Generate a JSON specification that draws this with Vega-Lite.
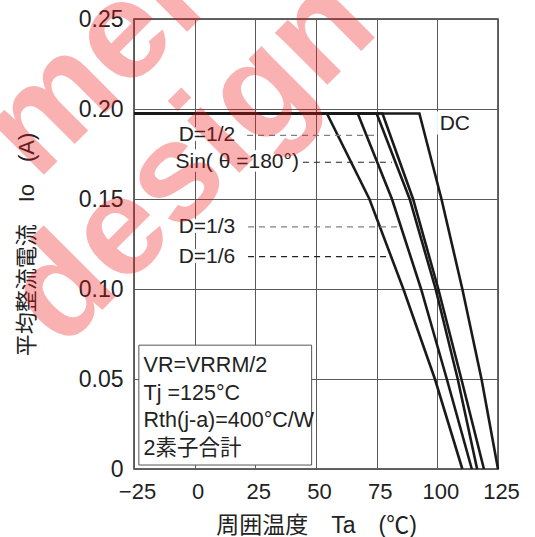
{
  "$schema": "https://vega.github.io/schema/vega-lite/v6.json",
  "autosize": "none",
  "width": 364,
  "height": 450,
  "padding": {"left": 134, "top": 19, "right": 37, "bottom": 68},
  "background": "white",
  "config": {
    "view": {"stroke": "#333333", "strokeWidth": 1.5},
    "font": "Liberation Sans, Noto Sans CJK JP"
  },
  "datasets": {
    "curves": [
      {"s": "D=1/6", "k": 0, "t": -25, "io": 0.1975},
      {"s": "D=1/6", "k": 1, "t": 54.5, "io": 0.1975},
      {"s": "D=1/6", "k": 3, "t": 72.0, "io": 0.15},
      {"s": "D=1/6", "k": 4, "t": 86.0, "io": 0.10},
      {"s": "D=1/6", "k": 5, "t": 99.0, "io": 0.05},
      {"s": "D=1/6", "k": 7, "t": 110.3, "io": 0},
      {"s": "D=1/3", "k": 0, "t": -25, "io": 0.1975},
      {"s": "D=1/3", "k": 1, "t": 67.2, "io": 0.1975},
      {"s": "D=1/3", "k": 3, "t": 81.3, "io": 0.15},
      {"s": "D=1/3", "k": 4, "t": 93.3, "io": 0.10},
      {"s": "D=1/3", "k": 5, "t": 103.9, "io": 0.05},
      {"s": "D=1/3", "k": 7, "t": 114.2, "io": 0},
      {"s": "Sin", "k": 0, "t": -25, "io": 0.1975},
      {"s": "Sin", "k": 1, "t": 75.0, "io": 0.1975},
      {"s": "Sin", "k": 3, "t": 88.6, "io": 0.15},
      {"s": "Sin", "k": 4, "t": 99.3, "io": 0.10},
      {"s": "Sin", "k": 5, "t": 108.4, "io": 0.05},
      {"s": "Sin", "k": 7, "t": 116.4, "io": 0},
      {"s": "D=1/2", "k": 0, "t": -25, "io": 0.1975},
      {"s": "D=1/2", "k": 1, "t": 77.4, "io": 0.1975},
      {"s": "D=1/2", "k": 3, "t": 90.0, "io": 0.15},
      {"s": "D=1/2", "k": 4, "t": 100.4, "io": 0.10},
      {"s": "D=1/2", "k": 5, "t": 109.9, "io": 0.05},
      {"s": "D=1/2", "k": 7, "t": 119.2, "io": 0},
      {"s": "DC", "k": 0, "t": -25, "io": 0.1975},
      {"s": "DC", "k": 1, "t": 92.6, "io": 0.1975},
      {"s": "DC", "k": 3, "t": 101.7, "io": 0.15},
      {"s": "DC", "k": 4, "t": 110.3, "io": 0.10},
      {"s": "DC", "k": 5, "t": 118.2, "io": 0.05},
      {"s": "DC", "k": 7, "t": 125, "io": 0}
    ],
    "labels": [
      {"label": "D=1/2", "lx": -6.6, "ly": 0.1854, "x1": 21.6, "x2": 75.7, "tone": "grey"},
      {"label": "Sin( θ =180°)", "lx": -7.9, "ly": 0.1704, "x1": 44.6, "x2": 81.3, "tone": "black"},
      {"label": "D=1/3", "lx": -6.6, "ly": 0.1345, "x1": 22.0, "x2": 85.5, "tone": "grey"},
      {"label": "D=1/6", "lx": -6.6, "ly": 0.118, "x1": 22.0, "x2": 81.2, "tone": "black"}
    ],
    "dc": [{"label": "DC", "lx": 107.2, "ly": 0.1919}],
    "box": [{"bx1": -23.0, "bx2": 48.2, "by1": 0.0022, "by2": 0.0688}],
    "boxtext": [
      {"line": "VR=VRRM/2", "tx": -21.05, "ty": 0.054},
      {"line": "Tj =125°C", "tx": -21.05, "ty": 0.0384},
      {"line": "Rth(j-a)=400°C/W", "tx": -21.05, "ty": 0.0231},
      {"line": "2素子合計", "tx": -21.05, "ty": 0.0078}
    ],
    "wm": [
      {"w": "design", "wx": 11.0, "wy": 0.1545},
      {"w": "mel", "wx": -29.8, "wy": 0.2069}
    ]
  },
  "layer": [
    {
      "data": {"name": "box"},
      "mark": {"type": "rect", "fill": "white", "stroke": "#555555", "strokeWidth": 1},
      "encoding": {
        "x": {
          "field": "bx1", "type": "quantitative",
          "scale": {"domain": [-25, 125], "nice": false, "zero": false},
          "axis": {
            "values": [-25, 0, 25, 50, 75, 100, 125],
            "grid": true, "gridColor": "#5a5a5a", "gridWidth": 1,
            "ticks": false, "tickSize": 0, "domain": false,
            "labelFlush": false, "labelFontSize": 22, "labelColor": "#222222",
            "labelBaseline": "alphabetic", "labelPadding": 29, "labelOffset": 3,
            "title": "周囲温度　Ta　(℃)", "titleFontSize": 23, "titleFontWeight": "normal",
            "titleColor": "#222222", "titleBaseline": "alphabetic", "titleY": 63
          }
        },
        "x2": {"field": "bx2"},
        "y": {
          "field": "by1", "type": "quantitative",
          "scale": {"domain": [0, 0.25], "nice": false, "zero": false},
          "axis": {
            "values": [0, 0.05, 0.1, 0.15, 0.2, 0.25],
            "labelExpr": "datum.value == 0 ? '0' : format(datum.value, '.2f')",
            "grid": true, "gridColor": "#5a5a5a", "gridWidth": 1,
            "ticks": false, "tickSize": 0, "domain": false,
            "labelFlush": false, "labelFontSize": 23, "labelColor": "#222222",
            "labelPadding": 11,
            "title": "平均整流電流　Io　(A)", "titleFontSize": 22, "titleFontWeight": "normal",
            "titleColor": "#222222", "titleBaseline": "alphabetic", "titleX": -101, "titleY": 225
          }
        },
        "y2": {"field": "by2"}
      }
    },
    {
      "data": {"name": "curves"},
      "mark": {"type": "line", "color": "#1a1a1a", "strokeWidth": 2.6},
      "encoding": {
        "x": {"field": "t", "type": "quantitative"},
        "y": {"field": "io", "type": "quantitative"},
        "detail": {"field": "s"},
        "order": {"field": "k", "type": "quantitative"}
      }
    },
    {
      "data": {"name": "labels"},
      "transform": [{"filter": "datum.tone == 'grey'"}],
      "mark": {"type": "rule", "color": "#808080", "strokeWidth": 1.2, "strokeDash": [6, 5]},
      "encoding": {
        "x": {"field": "x1", "type": "quantitative"},
        "x2": {"field": "x2"},
        "y": {"field": "ly", "type": "quantitative"}
      }
    },
    {
      "data": {"name": "labels"},
      "transform": [{"filter": "datum.tone == 'black'"}],
      "mark": {"type": "rule", "color": "#222222", "strokeWidth": 1.1, "strokeDash": [6, 5]},
      "encoding": {
        "x": {"field": "x1", "type": "quantitative"},
        "x2": {"field": "x2"},
        "y": {"field": "ly", "type": "quantitative"}
      }
    },
    {
      "data": {"name": "labels"},
      "mark": {"type": "text", "align": "left", "baseline": "middle", "fontSize": 21, "stroke": "white", "strokeWidth": 7, "fill": "white"},
      "encoding": {
        "x": {"field": "lx", "type": "quantitative"},
        "y": {"field": "ly", "type": "quantitative"},
        "text": {"field": "label"}
      }
    },
    {
      "data": {"name": "labels"},
      "mark": {"type": "text", "align": "left", "baseline": "middle", "fontSize": 21, "color": "#222222"},
      "encoding": {
        "x": {"field": "lx", "type": "quantitative"},
        "y": {"field": "ly", "type": "quantitative"},
        "text": {"field": "label"}
      }
    },
    {
      "data": {"name": "dc"},
      "mark": {"type": "text", "align": "center", "baseline": "middle", "fontSize": 21, "stroke": "white", "strokeWidth": 9, "fill": "white"},
      "encoding": {
        "x": {"field": "lx", "type": "quantitative"},
        "y": {"field": "ly", "type": "quantitative"},
        "text": {"field": "label"}
      }
    },
    {
      "data": {"name": "dc"},
      "mark": {"type": "text", "align": "center", "baseline": "middle", "fontSize": 21, "color": "#222222"},
      "encoding": {
        "x": {"field": "lx", "type": "quantitative"},
        "y": {"field": "ly", "type": "quantitative"},
        "text": {"field": "label"}
      }
    },
    {
      "data": {"name": "boxtext"},
      "mark": {"type": "text", "align": "left", "baseline": "alphabetic", "fontSize": 21.5, "color": "#222222"},
      "encoding": {
        "x": {"field": "tx", "type": "quantitative"},
        "y": {"field": "ty", "type": "quantitative"},
        "text": {"field": "line"}
      }
    },
    {
      "data": {"name": "wm"},
      "mark": {"type": "text", "align": "center", "baseline": "alphabetic", "fontSize": 140, "fontWeight": "bold", "font": "Liberation Sans", "angle": -45, "color": "#ee1111", "opacity": 0.32},
      "encoding": {
        "x": {"field": "wx", "type": "quantitative"},
        "y": {"field": "wy", "type": "quantitative"},
        "text": {"field": "w"}
      }
    }
  ]
}
